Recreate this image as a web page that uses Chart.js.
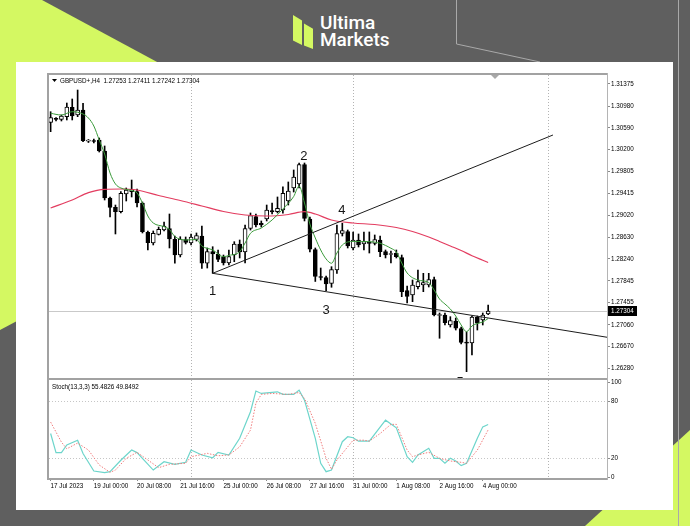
<!DOCTYPE html>
<html lang="en">
<head>
<meta charset="UTF-8">
<title>GBPUSD+ H4</title>
<script src="https://cdn.jsdelivr.net/npm/chart.js@4.4.0/dist/chart.umd.min.js"></script>
<style>
    html, body { margin: 0; padding: 0; }
    body {
        width: 690px;
        height: 526px;
        overflow: hidden;
        position: relative;
        background: #5f5f5f;
        font-family: Roboto, Arial, sans-serif;
    }
    .lime {
        position: absolute;
        left: 0; top: 0;
        width: 690px; height: 526px;
        background: #d4f862;
    }
    #limeTop { clip-path: polygon(0 0, 42px 0, 330px 155px, 0 330px); }
    #limeBottom { clip-path: polygon(690px 430px, 690px 526px, 585px 526px); }
    #deco { position: absolute; left: 0; top: 0; }
    .bar {
        position: absolute;
        background: #d4f862;
    }
    #barL { left: 293px; top: 15px; width: 9px; height: 30px; clip-path: polygon(0 0, 100% 18%, 100% 100%, 0 85%); }
    #barR { left: 304px; top: 20px; width: 9px; height: 29px; clip-path: polygon(0 12%, 100% 30%, 100% 100%, 0 88%); }
    #logoText {
        position: absolute;
        left: 320px; top: 14px;
        color: #fff;
        font-size: 19px;
        line-height: 17px;
        font-weight: 500;
    }
    #panel {
        position: absolute;
        left: 16px; top: 62px;
        width: 657px; height: 448px;
        background: #fff;
    }
    canvas { position: absolute; left: 0; top: 0; }
</style>
</head>
<body>
<div class="lime" id="limeTop"></div>
<div class="lime" id="limeBottom"></div>
<svg id="deco" width="690" height="526">
    <polyline points="456.5,0 456.5,44 540,62" fill="none" stroke="#a9a9a9" stroke-width="1"/>
    <line x1="678.5" y1="0" x2="678.5" y2="526" stroke="#a9a9a9" stroke-width="1"/>
</svg>
<div class="bar" id="barL"></div>
<div class="bar" id="barR"></div>
<div id="logoText">Ultima<br>Markets</div>
<div id="panel"></div>
<canvas id="priceChart" width="690" height="526"></canvas>
<canvas id="stochChart" width="690" height="526"></canvas>

<script>
// GBPUSD+ H4 candles, bar 0 = 17 Jul 2023 16:00
const opens = [
    1.30688, 1.30751, 1.30742, 1.30789, 1.30957, 1.30819, 1.30909, 1.30350, 1.30359, 1.30371,
    1.30174, 1.29332, 1.29165, 1.29086, 1.29404, 1.29445, 1.29445, 1.29242, 1.28717, 1.28525,
    1.28681, 1.28758, 1.28785, 1.28592, 1.28310, 1.28588, 1.28525, 1.28588, 1.28651, 1.28162,
    1.28370, 1.28328, 1.28275, 1.28167, 1.28310, 1.28508, 1.28364, 1.28785, 1.28997, 1.28879,
    1.28956, 1.29108, 1.29086, 1.29117, 1.29278, 1.29511, 1.29583, 1.29932, 1.28956, 1.28409,
    1.27925, 1.27907, 1.27803, 1.28042, 1.28699, 1.28728, 1.28436, 1.28579, 1.28508, 1.28543,
    1.28520, 1.28579, 1.28370, 1.28319, 1.28341, 1.28266, 1.27674, 1.27594, 1.27742, 1.27773,
    1.27773, 1.27871, 1.27226, 1.27235, 1.27056, 1.27128, 1.26993, 1.26751, 1.26733, 1.27194,
    1.27146, 1.27253
];
const highs = [
    1.30878, 1.30774, 1.30819, 1.31034, 1.31106, 1.31267, 1.31029, 1.30380, 1.30389, 1.30407,
    1.30264, 1.29350, 1.29206, 1.29445, 1.29511, 1.29654, 1.29493, 1.29260, 1.28741, 1.28741,
    1.28812, 1.28902, 1.29045, 1.28651, 1.28638, 1.28633, 1.28687, 1.28705, 1.28830, 1.28436,
    1.28459, 1.28400, 1.28310, 1.28400, 1.28549, 1.28579, 1.28848, 1.29063, 1.29045, 1.28920,
    1.29206, 1.29242, 1.29350, 1.29534, 1.29619, 1.29834, 1.29959, 1.29959, 1.28991, 1.28436,
    1.28077, 1.27934, 1.28101, 1.28848, 1.28879, 1.28758, 1.28723, 1.28687, 1.28723, 1.28723,
    1.28669, 1.28651, 1.28400, 1.28382, 1.28400, 1.28310, 1.27755, 1.27862, 1.28042, 1.27982,
    1.27982, 1.27916, 1.27271, 1.27271, 1.27205, 1.27181, 1.27020, 1.26931, 1.27217, 1.27217,
    1.27271, 1.27411
];
const lows = [
    1.30520, 1.30712, 1.30712, 1.30730, 1.30730, 1.30789, 1.30341, 1.30326, 1.30317, 1.30156,
    1.29296, 1.28991, 1.28687, 1.29063, 1.29278, 1.29350, 1.29171, 1.28705, 1.28400, 1.28490,
    1.28669, 1.28741, 1.28436, 1.28162, 1.28275, 1.28508, 1.28490, 1.28561, 1.28072, 1.28077,
    1.27982, 1.28190, 1.28131, 1.28131, 1.28190, 1.28257, 1.28167, 1.28758, 1.28812, 1.28812,
    1.28920, 1.29045, 1.29063, 1.29058, 1.29206, 1.29439, 1.29511, 1.28920, 1.28364, 1.27836,
    1.27862, 1.27671, 1.27732, 1.27978, 1.28651, 1.28436, 1.28400, 1.28454, 1.28400, 1.28346,
    1.28490, 1.28280, 1.28257, 1.28167, 1.28257, 1.27563, 1.27450, 1.27474, 1.27701, 1.27653,
    1.27737, 1.27217, 1.26818, 1.27056, 1.27020, 1.26966, 1.26716, 1.26219, 1.26518, 1.26966,
    1.27056, 1.27242
];
const closes = [
    1.30771, 1.30742, 1.30801, 1.30963, 1.30801, 1.30909, 1.30359, 1.30359, 1.30344, 1.30174,
    1.29332, 1.29165, 1.29086, 1.29416, 1.29475, 1.29488, 1.29242, 1.28728, 1.28531, 1.28699,
    1.28771, 1.28830, 1.28597, 1.28310, 1.28597, 1.28534, 1.28633, 1.28660, 1.28162, 1.28370,
    1.28328, 1.28233, 1.28167, 1.28284, 1.28508, 1.28364, 1.28785, 1.29018, 1.28848, 1.28848,
    1.29117, 1.29081, 1.29147, 1.29416, 1.29457, 1.29708, 1.29932, 1.28968, 1.28413, 1.27925,
    1.27907, 1.27791, 1.28051, 1.28696, 1.28746, 1.28472, 1.28579, 1.28490, 1.28549, 1.28517,
    1.28588, 1.28370, 1.28310, 1.28337, 1.28280, 1.27653, 1.27567, 1.27773, 1.27832, 1.27814,
    1.27871, 1.27235, 1.27244, 1.27097, 1.27137, 1.26997, 1.26742, 1.26728, 1.27199, 1.27087,
    1.27235, 1.27304
];

// moving averages (bar index -> price)
const fastMaIdx = [0, 2, 4, 6, 7, 8, 9, 10, 11, 12, 13, 15, 16, 17, 18, 19, 21, 22, 23, 25,
    27, 28, 30, 32, 33, 35, 36, 37, 39, 41, 43, 45, 46, 47, 48, 49, 50, 51, 52, 53,
    54, 56, 59, 61, 63, 64, 65, 66, 68, 70, 71, 72, 73, 74, 75, 76, 77, 78, 79, 80, 81];
const fastMa = [1.30850, 1.30819, 1.30878, 1.30837, 1.30765, 1.30622, 1.30371, 1.30120, 1.29780, 1.29583,
    1.29511, 1.29466, 1.29421, 1.29242, 1.29009, 1.28884, 1.28818, 1.28767, 1.28642, 1.28579,
    1.28588, 1.28472, 1.28400, 1.28280, 1.28302, 1.28370, 1.28525, 1.28699, 1.28794, 1.28938,
    1.29135, 1.29359, 1.29547, 1.29242, 1.28866, 1.28615, 1.28400, 1.28239, 1.28162, 1.28346,
    1.28490, 1.28553, 1.28549, 1.28520, 1.28431, 1.28364, 1.28167, 1.27988, 1.27862, 1.27817,
    1.27683, 1.27522, 1.27432, 1.27342, 1.27217, 1.27056, 1.26936, 1.27038, 1.27083, 1.27110, 1.27172];
const slowMaIdx = [0, 4, 7, 10, 13, 16, 20, 24, 28, 32, 36, 40, 44, 47, 49, 52, 56, 60, 64, 67,
    70, 72, 74, 76, 78, 80, 81];
const slowMa = [1.29153, 1.29296, 1.29427, 1.29488, 1.29493, 1.29475, 1.29377, 1.29287, 1.29189, 1.29090,
    1.29027, 1.29009, 1.29036, 1.29086, 1.29045, 1.28938, 1.28884, 1.28857, 1.28803, 1.28732,
    1.28633, 1.28553, 1.28472, 1.28392, 1.28297, 1.28216, 1.28176];

// trend lines drawn on the chart
const trendUpIdx = [30, 93];
const trendUpVal = [1.27982, 1.30461];
const trendDownIdx = [30, 103];
const trendDownVal = [1.27982, 1.26836];

// wave labels
const waveText = ['1', '2', '3', '4', '5'];
const waveIdx = [30, 46.9, 51, 53.9, 75.8];
const wavePrice = [1.27665, 1.30085, 1.27325, 1.29104, 1.26035];

// Stoch(13,3,3)
const stochMainIdx = [0, 1, 2, 3, 5, 6, 8, 10, 11, 13, 15, 16, 19, 21, 23, 25, 26, 28, 30, 31,
    33, 35, 37, 38, 39, 42, 43, 45, 46, 47, 49, 50, 51, 52, 54, 55, 56, 57, 59, 62,
    64, 66, 67, 68, 70, 71, 72, 73, 74, 75, 76, 77, 79, 80, 81];
const stochMain = [46, 26, 26, 34, 39, 25, 6.7, 5, 6, 18, 28.7, 26, 7.7, 16.4, 13.7, 15.8, 28.7, 23.5, 20.6, 26.3,
    23.5, 41, 68.8, 90.5, 88, 89.7, 87, 87, 91.5, 81, 41, 14.8, 6, 7.7, 37.4, 42.6, 41.6, 38, 38, 60,
    52, 21.7, 15.8, 23.5, 30.5, 20, 20, 14.8, 20, 17.2, 12.3, 14.8, 41, 53, 55.4826];
const stochSignalIdx = [0, 2, 3, 5, 7, 9, 11, 12, 14, 16, 18, 20, 22, 25, 26, 29, 31, 33, 35, 37,
    38, 39, 41, 44, 46, 47, 49, 51, 52, 53, 55, 56, 58, 59, 61, 63, 64, 66, 67, 68,
    70, 72, 74, 76, 77, 79, 81];
const stochSignal = [58, 37, 30, 36, 28.7, 13, 5.3, 7.7, 20, 26.3, 18.2, 10.2, 13.7, 14.8, 21.7, 25.2, 22.7, 23.5, 32, 49.6,
    77.6, 87, 88, 87, 89, 82.8, 56.6, 20, 8.5, 18.2, 32, 39, 39, 38, 46, 55.6, 55.6, 28.7, 21.7, 23.5,
    26.3, 20, 17.2, 15.8, 14.8, 28.7, 49.8492];

// axes
const timeTickIdx = [0, 8, 16, 24, 32, 40, 48, 56, 64, 72, 80];
const timeLabels = ['17 Jul 2023', '19 Jul 00:00', '20 Jul 08:00', '21 Jul 16:00', '25 Jul 00:00',
    '26 Jul 08:00', '27 Jul 16:00', '31 Jul 00:00', '1 Aug 08:00', '2 Aug 16:00', '4 Aug 00:00'];
const priceTicks = [1.31375, 1.30980, 1.30590, 1.30200, 1.29805, 1.29415, 1.29020, 1.28630,
    1.28240, 1.27845, 1.27455, 1.27060, 1.26670, 1.26280];
const stochTicks = [0, 20, 80, 100];
const separators = [26, 56, 92];

const xMin = -0.3, xMax = 103;
const priceMin = 1.26106, priceMax = 1.31536;
const smallFont = '6.3px "Liberation Sans", Arial, sans-serif';

function toPoints(idx, vals) {
    return idx.map((v, k) => ({ x: v, y: vals[k] }));
}

function drawSeparators(chart) {
    const { ctx, chartArea: a, scales: { x } } = chart;
    ctx.save();
    ctx.strokeStyle = '#b3b3b3';
    ctx.lineWidth = 1;
    ctx.setLineDash([1, 2]);
    separators.forEach(i => {
        const px = Math.round(x.getPixelForValue(i)) + 0.5;
        ctx.beginPath();
        ctx.moveTo(px, a.top);
        ctx.lineTo(px, a.bottom);
        ctx.stroke();
    });
    ctx.restore();
}

function drawFrame(chart) {
    const { ctx, chartArea: a } = chart;
    ctx.save();
    ctx.fillStyle = '#a2a2a2';
    ctx.fillRect(a.left - 2, a.top - 2, a.width + 2, 2);        // top
    ctx.fillRect(a.left - 2, a.top - 2, 2, a.height + 4);       // left
    ctx.fillRect(a.left - 2, a.bottom, a.width + 2, 2);         // bottom
    ctx.fillStyle = '#b4b4b4';
    ctx.fillRect(a.right, a.top - 2, 1, a.height + 4);          // right
    ctx.restore();
}

const priceDecor = {
    id: 'priceDecor',
    beforeDatasetsDraw(chart) {
        const { ctx, chartArea: a, scales: { y } } = chart;
        drawSeparators(chart);
        const by = Math.round(y.getPixelForValue(closes[closes.length - 1])) + 0.5;
        ctx.save();
        ctx.strokeStyle = '#c9c9c9';
        ctx.lineWidth = 1;
        ctx.beginPath();
        ctx.moveTo(a.left, by);
        ctx.lineTo(a.right, by);
        ctx.stroke();
        ctx.restore();
    },
    afterDatasetsDraw(chart) {
        const { ctx, chartArea: a, scales: { x, y } } = chart;
        ctx.save();
        ctx.beginPath();
        ctx.rect(a.left, a.top, a.width, a.height);
        ctx.clip();
        ctx.fillStyle = '#151515';
        ctx.font = '13px "Liberation Sans", Arial, sans-serif';
        ctx.textAlign = 'center';
        ctx.textBaseline = 'middle';
        waveText.forEach((t, k) => {
            ctx.fillText(t, x.getPixelForValue(waveIdx[k]), y.getPixelForValue(wavePrice[k]));
        });
        ctx.restore();
    },
    afterDraw(chart) {
        const { ctx, chartArea: a, scales: { y } } = chart;
        drawFrame(chart);
        const last = closes.length - 1;
        ctx.save();
        // header
        ctx.fillStyle = '#000';
        ctx.beginPath();
        ctx.moveTo(a.left + 3, a.top + 4);
        ctx.lineTo(a.left + 8, a.top + 4);
        ctx.lineTo(a.left + 5.5, a.top + 7);
        ctx.closePath();
        ctx.fill();
        ctx.font = smallFont;
        ctx.textBaseline = 'middle';
        ctx.textAlign = 'left';
        ctx.fillText('GBPUSD+,H4  ' + [opens[last], highs[last], lows[last], closes[last]]
            .map(v => v.toFixed(5)).join(' '), a.left + 11, a.top + 6);
        // chart shift marker
        ctx.fillStyle = '#a8a8a8';
        ctx.beginPath();
        ctx.moveTo(a.left + 442, a.top);
        ctx.lineTo(a.left + 450, a.top);
        ctx.lineTo(a.left + 446, a.top + 4);
        ctx.closePath();
        ctx.fill();
        // bid label
        const by = Math.round(y.getPixelForValue(closes[last]));
        ctx.fillStyle = '#000';
        ctx.fillRect(a.right + 1, by - 5, 29, 10);
        ctx.fillStyle = '#fff';
        ctx.fillText(closes[last].toFixed(5), a.right + 4, by + 0.5);
        ctx.restore();
    }
};

const stochDecor = {
    id: 'stochDecor',
    beforeDatasetsDraw(chart) {
        const { ctx, chartArea: a, scales: { y } } = chart;
        drawSeparators(chart);
        ctx.save();
        ctx.strokeStyle = '#c6c6c6';
        ctx.lineWidth = 1;
        ctx.setLineDash([1, 2]);
        [20, 80].forEach(v => {
            const py = Math.round(y.getPixelForValue(v)) + 0.5;
            ctx.beginPath();
            ctx.moveTo(a.left, py);
            ctx.lineTo(a.right, py);
            ctx.stroke();
        });
        ctx.restore();
    },
    afterDraw(chart) {
        const { ctx, chartArea: a } = chart;
        drawFrame(chart);
        ctx.save();
        ctx.fillStyle = '#000';
        ctx.font = smallFont;
        ctx.textBaseline = 'middle';
        ctx.fillText('Stoch(13,3,3) ' + stochMain[stochMain.length - 1].toFixed(4) + ' ' +
            stochSignal[stochSignal.length - 1].toFixed(4), a.left + 3, a.top + 7);
        ctx.restore();
    }
};

const wicks = opens.map((_, i) => ({ x: i, y: [lows[i], highs[i]] }));
const bodies = opens.map((o, i) => ({ x: i, y: [o, closes[i]] }));

new Chart(document.getElementById('priceChart'), {
    type: 'bar',
    data: {
        datasets: [
            {
                type: 'line', label: 'trend up', data: toPoints(trendUpIdx, trendUpVal),
                borderColor: '#1c1c1c', borderWidth: 1, pointRadius: 0, order: 0
            },
            {
                type: 'line', label: 'trend down', data: toPoints(trendDownIdx, trendDownVal),
                borderColor: '#1c1c1c', borderWidth: 1, pointRadius: 0, order: 0
            },
            {
                type: 'line', label: 'MA fast', data: toPoints(fastMaIdx, fastMa),
                borderColor: '#3a9a3a', borderWidth: 1, pointRadius: 0,
                cubicInterpolationMode: 'monotone', order: 0
            },
            {
                type: 'line', label: 'MA slow', data: toPoints(slowMaIdx, slowMa),
                borderColor: '#e33d60', borderWidth: 1.2, pointRadius: 0,
                cubicInterpolationMode: 'monotone', order: 0
            },
            {
                label: 'body', data: bodies,
                backgroundColor: c => closes[c.dataIndex] >= opens[c.dataIndex] ? '#ffffff' : '#000000',
                borderColor: '#000', borderWidth: 1, borderSkipped: false,
                barThickness: 4, minBarLength: 1, grouped: false, order: 1
            },
            {
                label: 'wick', data: wicks, backgroundColor: '#000',
                barThickness: 1, grouped: false, order: 2
            }
        ]
    },
    options: {
        responsive: false,
        animation: false,
        layout: { padding: { left: 49, top: 75, right: 43, bottom: 148 } },
        plugins: { legend: { display: false }, tooltip: { enabled: false } },
        scales: {
            x: { type: 'linear', min: xMin, max: xMax, offset: false, display: false },
            y: {
                position: 'right',
                min: priceMin,
                max: priceMax,
                afterFit: s => { s.width = 40; },
                afterBuildTicks: s => { s.ticks = priceTicks.map(v => ({ value: v })); },
                ticks: {
                    autoSkip: false, padding: 1, color: '#000',
                    font: { family: '"Liberation Sans", Arial', size: 6.3 },
                    callback: v => Number(v).toFixed(5)
                },
                grid: { drawOnChartArea: false, tickLength: 3, color: '#8a8a8a' },
                border: { display: false }
            }
        }
    },
    plugins: [priceDecor]
});

new Chart(document.getElementById('stochChart'), {
    type: 'line',
    data: {
        datasets: [
            {
                label: 'signal', data: toPoints(stochSignalIdx, stochSignal),
                borderColor: '#f07d7d', borderWidth: 1, borderDash: [1.5, 1.5], pointRadius: 0
            },
            {
                label: 'main', data: toPoints(stochMainIdx, stochMain),
                borderColor: '#6dd5cb', borderWidth: 1.2, pointRadius: 0
            }
        ]
    },
    options: {
        responsive: false,
        animation: false,
        layout: { padding: { left: 49, top: 380, right: 43, bottom: 34 } },
        plugins: { legend: { display: false }, tooltip: { enabled: false } },
        scales: {
            x: {
                type: 'linear', min: xMin, max: xMax,
                afterFit: s => { s.height = 14; },
                afterBuildTicks: s => { s.ticks = timeTickIdx.map(v => ({ value: v })); },
                ticks: {
                    autoSkip: false, maxRotation: 0, align: 'start', padding: 1, color: '#000',
                    font: { family: '"Liberation Sans", Arial', size: 6.3 },
                    callback: (v, i) => timeLabels[i]
                },
                grid: { drawOnChartArea: false, tickLength: 3, color: '#8a8a8a' },
                border: { display: false }
            },
            y: {
                position: 'right', min: -0.63, max: 102.1,
                afterFit: s => { s.width = 40; },
                afterBuildTicks: s => { s.ticks = stochTicks.map(v => ({ value: v })); },
                ticks: {
                    autoSkip: false, padding: 1, color: '#000',
                    font: { family: '"Liberation Sans", Arial', size: 6.3 }
                },
                grid: { drawOnChartArea: false, tickLength: 3, color: '#8a8a8a' },
                border: { display: false }
            }
        }
    },
    plugins: [stochDecor]
});
</script>
</body>
</html>
